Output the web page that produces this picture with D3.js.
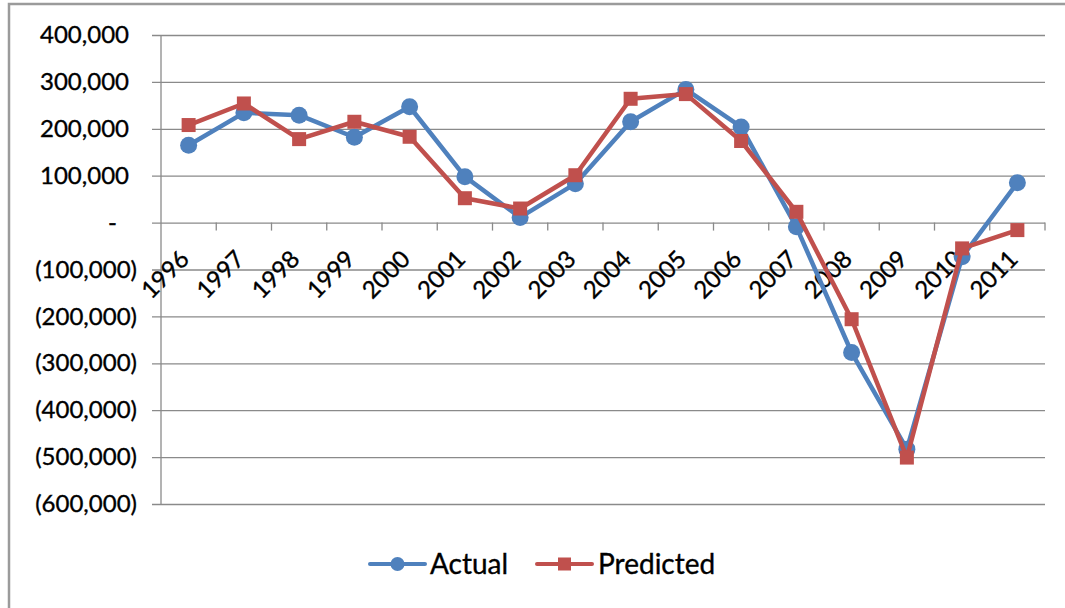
<!DOCTYPE html>
<html>
<head>
<meta charset="utf-8">
<script src="https://cdn.jsdelivr.net/npm/d3@7"></script>
<style>
  html, body { margin: 0; padding: 0; background: #fff; }
  svg { display: block; }
  text { font-family: Lato, "Open Sans", "DejaVu Sans", sans-serif; fill: #000; stroke: #000; stroke-width: 0.35px; }
</style>
</head>
<body>
<svg id="chart" width="1065" height="608"></svg>
<script>
// Yearly values, actual vs. model prediction
const years = ["1996","1997","1998","1999","2000","2001","2002","2003",
               "2004","2005","2006","2007","2008","2009","2010","2011"];
const actual = [165000, 234000, 229000, 182000, 247000, 98000, 11000, 83000,
                215000, 284000, 204000, -9000, -277000, -483000, -73000, 85000];
const predicted = [208000, 254000, 178000, 215000, 183000, 52000, 30000, 101000,
                   264000, 274000, 174000, 23000, -206000, -501000, -55000, -16000];
const yTicks = [400000, 300000, 200000, 100000, 0, -100000, -200000,
                -300000, -400000, -500000, -600000];
const seriesNames = ["Actual", "Predicted"];

const BLUE = "#4F81BD", RED = "#C0504D", GRID = "#8a8a8a";

const svg = d3.select("#chart");

// outer chart frame (left and top edges visible)
svg.append("rect")
  .attr("x", 9).attr("y", 4)
  .attr("width", 1100).attr("height", 700)
  .attr("fill", "none").attr("stroke", "#9b9b9b").attr("stroke-width", 2.5);

const plot = { left: 161, right: 1045, top: 35, bottom: 504 };

const x = d3.scaleBand().domain(years).range([plot.left, plot.right]).padding(0);
const y = d3.scaleLinear().domain([-600000, 400000]).range([plot.bottom, plot.top]);
const cx = d => x(d) + x.bandwidth() / 2;

const fmt = d3.format(",");
const yLabel = v => v === 0 ? "-" : v < 0 ? "(" + fmt(-v) + ")" : fmt(v);

// value axis with horizontal gridlines
const yAxisG = svg.append("g")
  .attr("transform", `translate(${plot.left - 9},0)`)
  .call(d3.axisLeft(y)
    .tickValues(yTicks)
    .tickSize(-(plot.right - plot.left + 9))
    .tickPadding(15)
    .tickFormat(yLabel));
yAxisG.select(".domain").remove();
yAxisG.selectAll(".tick line").attr("stroke", GRID).attr("stroke-width", 1.3);
yAxisG.selectAll(".tick text")
  .style("font-size", "24px")
  .attr("dx", d => d > 0 ? -8 : d === 0 ? -20 : 0);

// vertical axis line
svg.append("line")
  .attr("x1", plot.left).attr("x2", plot.left)
  .attr("y1", plot.top).attr("y2", plot.bottom)
  .attr("stroke", GRID).attr("stroke-width", 1.3);

// category axis on the zero line
const xAxisG = svg.append("g")
  .attr("transform", `translate(0,${y(0)})`)
  .call(d3.axisBottom(x).tickSize(0).tickPadding(0));
xAxisG.select(".domain").remove();
xAxisG.selectAll(".tick text")
  .style("font-size", "24px")
  .attr("text-anchor", "end")
  .attr("y", 0).attr("dy", 0)
  .attr("transform", "translate(2,38) rotate(-45)");

// tick marks between categories
const boundaries = years.slice(1).map(d => x(d)).concat([plot.right]);
svg.append("g").selectAll("line")
  .data(boundaries).join("line")
  .attr("x1", d => d).attr("x2", d => d)
  .attr("y1", y(0)).attr("y2", y(0) + 8)
  .attr("stroke", GRID).attr("stroke-width", 1.3);

const line = d3.line().x((d, i) => cx(years[i])).y(d => y(d));

// Actual series: line with circle markers
svg.append("path").datum(actual)
  .attr("d", line).attr("fill", "none")
  .attr("stroke", BLUE).attr("stroke-width", 4.5).attr("stroke-linejoin", "round");
svg.append("g").selectAll("circle")
  .data(actual).join("circle")
  .attr("cx", (d, i) => cx(years[i])).attr("cy", d => y(d))
  .attr("r", 8.5).attr("fill", BLUE);

// Predicted series: line with square markers
svg.append("path").datum(predicted)
  .attr("d", line).attr("fill", "none")
  .attr("stroke", RED).attr("stroke-width", 4.5).attr("stroke-linejoin", "round");
const sq = 14;
svg.append("g").selectAll("rect")
  .data(predicted).join("rect")
  .attr("x", (d, i) => cx(years[i]) - sq / 2).attr("y", d => y(d) - sq / 2)
  .attr("width", sq).attr("height", sq).attr("fill", RED);

// legend
const legendY = 564;
const legend = svg.append("g");
const items = [
  { name: seriesNames[0], color: BLUE, x0: 370, shape: "circle", tx: 430 },
  { name: seriesNames[1], color: RED, x0: 537, shape: "square", tx: 598 }
];
items.forEach(it => {
  legend.append("line")
    .attr("x1", it.x0).attr("x2", it.x0 + 55)
    .attr("y1", legendY).attr("y2", legendY)
    .attr("stroke", it.color).attr("stroke-width", 4).attr("stroke-linecap", "round");
  const mx = it.x0 + 27.5;
  if (it.shape === "circle") {
    legend.append("circle").attr("cx", mx).attr("cy", legendY).attr("r", 7).attr("fill", it.color);
  } else {
    legend.append("rect").attr("x", mx - 6.5).attr("y", legendY - 6.5)
      .attr("width", 13).attr("height", 13).attr("fill", it.color);
  }
  legend.append("text")
    .attr("x", it.tx).attr("y", legendY + 10)
    .style("font-size", "28px")
    .text(it.name);
});
</script>
</body>
</html>
